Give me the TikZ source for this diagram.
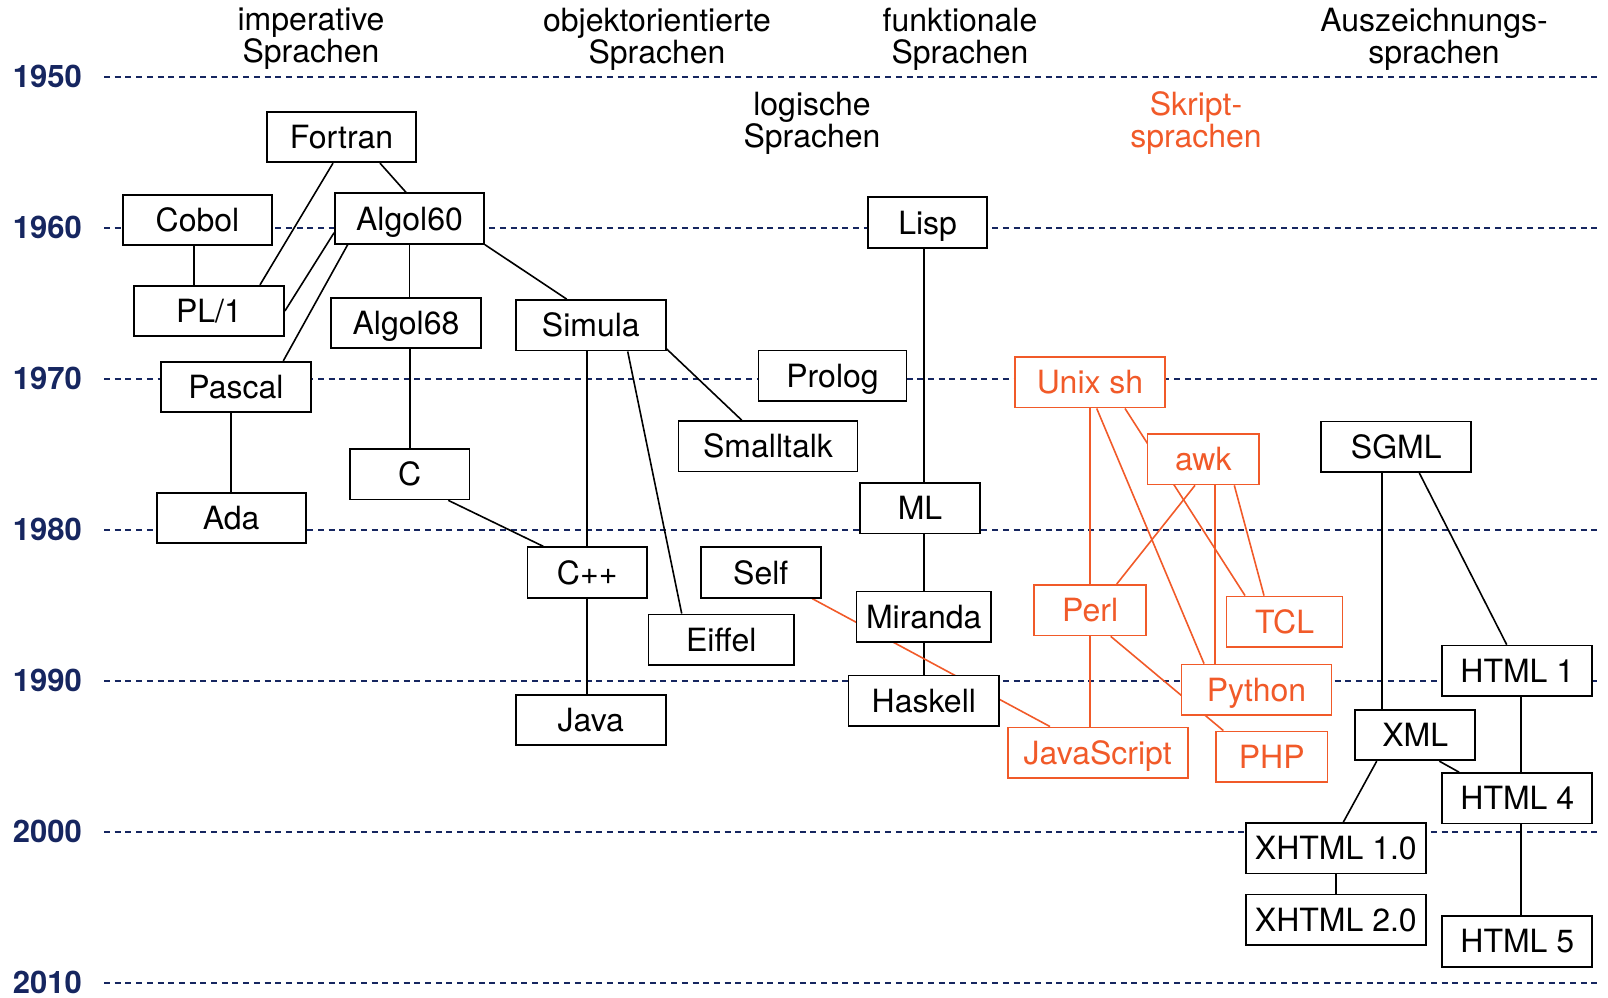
\documentclass[tikz,border=0pt]{standalone}
\usepackage{fontspec}
\setmainfont{TeX Gyre Heros}
\usetikzlibrary{calc}
\definecolor{navy}{RGB}{22,38,96}
\definecolor{scriptcol}{RGB}{241,90,41}
\newcommand{\langfont}{\fontsize{32}{32}\selectfont}
\newcommand{\yearfont}{\fontsize{31}{32}\selectfont\bfseries}
\pgfdeclarelayer{gridlayer}
\pgfdeclarelayer{linklayer}
\pgfsetlayers{gridlayer,linklayer,main}
\tikzset{
  lang/.style={draw=black, fill=white, line width=1.8pt, minimum height=50.5pt,
    inner sep=0pt, text height=23pt, text depth=0pt, font=\langfont},
  slang/.style={lang, draw=scriptcol, text=scriptcol},
  head/.style={align=center, inner sep=0pt, font=\langfont, anchor=north},
  year/.style={anchor=west, inner sep=0pt, text height=21.7pt, text depth=0pt,
    font=\yearfont, text=navy},
  grid/.style={navy, line width=2.2pt, dash pattern=on 6pt off 4.7pt},
  link/.style={black, line width=1.6pt},
  slink/.style={scriptcol, line width=1.6pt}
}
\begin{document}
\begin{tikzpicture}[x=1pt, y=-1pt]
\useasboundingbox (0,0) rectangle (1608,997);

% column headings
\node[head] (hImp) at (311,7.5) {imperative\\Sprachen};
\node[head] (hOO) at (657,7.5) {objektorientierte\\Sprachen};
\node[head] (hFun) at (960,7.5) {funktionale\\Sprachen};
\node[head] (hMark) at (1434,7.5) {Auszeichnungs-\\sprachen};
\node[head] (hLog) at (812,91.8) {logische\\Sprachen};
\node[head, text=scriptcol] (hScr) at (1196,91.8) {Skript-\\sprachen};

% time axis
\coordinate (gridend) at (1600,0);
\foreach \yr/\yy in {1950/76.7, 1960/227.75, 1970/378.8, 1980/529.85,
                     1990/680.9, 2000/831.95, 2010/982.6} {
  \node[year] (y\yr) at (12.7,\yy) {\yr};
  \begin{pgfonlayer}{gridlayer}
    \draw[grid] ($(y\yr.east)+(22,0)$) -- (y\yr.east -| gridend);
  \end{pgfonlayer}
}

% imperative languages
\node[lang, minimum width=149pt] (fortran) at (341.5,137) {Fortran};
\node[lang, minimum width=149pt] (cobol) at (197.5,220) {Cobol};
\node[lang, minimum width=149pt] (algol60) at (409.5,218.5) {Algol60};
\node[lang, minimum width=150pt] (pl1) at (209,311) {PL/1};
\node[lang, minimum width=150pt] (algol68) at (406,323) {Algol68};
\node[lang, minimum width=150pt] (pascal) at (236,387) {Pascal};
\node[lang, minimum width=119.5pt] (c) at (409.7,474.2) {C};
\node[lang, minimum width=149pt] (ada) at (231.2,517.9) {Ada};

% object-oriented languages
\node[lang, minimum width=150pt] (simula) at (590.8,325.3) {Simula};
\node[lang, minimum width=179pt] (smalltalk) at (768,446.3) {Smalltalk};
\node[lang, minimum width=119.5pt] (cpp) at (587.2,572.5) {C++};
\node[lang, minimum width=120pt] (self) at (760.8,572.5) {Self};
\node[lang, minimum width=145.5pt] (eiffel) at (721.3,639.7) {Eiffel};
\node[lang, minimum width=150pt] (java) at (590.8,720) {Java};

% logic and functional languages
\node[lang, minimum width=148pt] (prolog) at (832.5,375.8) {Prolog};
\node[lang, minimum width=118.5pt] (lisp) at (927.6,222.5) {Lisp};
\node[lang, minimum width=119.5pt] (ml) at (920,508.2) {ML};
\node[lang, minimum width=134.5pt] (miranda) at (923.7,616.8) {Miranda};
\node[lang, minimum width=150.5pt] (haskell) at (923.8,700.8) {Haskell};

% script languages
\node[slang, minimum width=150pt] (ush) at (1090,382.3) {Unix sh};
\node[slang, minimum width=111.5pt] (awk) at (1203.3,459.2) {awk};
\node[slang, minimum width=112pt] (perl) at (1090.2,610.2) {Perl};
\node[slang, minimum width=116pt] (tcl) at (1284.5,621.7) {TCL};
\node[slang, minimum width=150pt] (python) at (1256.5,689.7) {Python};
\node[slang, minimum width=180pt] (js) at (1097.7,752.7) {JavaScript};
\node[slang, minimum width=111.5pt] (php) at (1271.7,756.7) {PHP};

% markup languages
\node[lang, minimum width=150pt] (sgml) at (1396.3,446.8) {SGML};
\node[lang, minimum width=150pt] (html1) at (1517.3,670.8) {HTML 1};
\node[lang, minimum width=120pt] (xml) at (1415.2,735) {XML};
\node[lang, minimum width=150pt] (html4) at (1517.3,798.3) {HTML 4};
\node[lang, minimum width=180pt] (xhtml1) at (1335.8,848.3) {XHTML 1.0};
\node[lang, minimum width=180pt] (xhtml2) at (1335.8,919.8) {XHTML 2.0};
\node[lang, minimum width=150pt] (html5) at (1517.3,941.4) {HTML 5};

\begin{pgfonlayer}{linklayer}
  % imperative / object-oriented lineage
  \draw[link] ($(fortran.south)+(-8.5,0)$) -- ($(pl1.north)+(51,0)$);
  \draw[link] ($(fortran.south)+(38.5,0)$) -- ($(algol60.north)+(-3.5,0)$);
  \draw[link] ($(cobol.south)+(-3.5,0)$) coordinate (cb) -- (cb |- pl1.north);
  \draw[link] ($(algol60.west)+(0,14.2)$) -- (pl1.east);
  \draw[link] ($(algol60.south)+(-61.8,0)$) -- ($(pascal.north)+(47.3,0)$);
  \draw[link] (algol60.south) -- (algol60.south |- algol68.north);
  \draw[link] (algol60.south east) -- ($(simula.north)+(-24.1,0)$);
  \draw[link] (c.north |- algol68.south) -- (c.north);
  \draw[link] (ada.north |- pascal.south) -- (ada.north);
  \draw[link] (cpp.north |- simula.south) -- (cpp.north);
  \draw[link] ($(simula.south)+(36.9,0)$) -- ($(eiffel.north)+(-39.6,0)$);
  \draw[link] ($(simula.east)+(0,23.7)$) -- ($(smalltalk.north)+(-26.3,0)$);
  \draw[link] ($(c.south)+(38.6,0)$) -- ($(cpp.north)+(-43.9,0)$);
  \draw[link] (cpp.south) -- (cpp.south |- java.north);
  % functional lineage
  \draw[link] (miranda.north |- lisp.south) -- (miranda.north |- ml.north);
  \draw[link] (miranda.north |- ml.south) -- (miranda.north);
  \draw[link] (miranda.south) -- (miranda.south |- haskell.north);
  % script lineage
  \draw[slink] ($(self.south)+(51.5,0)$) -- ($(js.north)+(-47.7,0)$);
  \draw[slink] (ush.south) -- (ush.south |- perl.north);
  \draw[slink] (perl.south) -- (perl.south |- js.north);
  \draw[slink] ($(ush.south)+(6.7,0)$) -- ($(python.north)+(-52.5,0)$);
  \draw[slink] ($(ush.south)+(35,0)$) -- ($(tcl.north)+(-39.5,0)$);
  \draw[slink] ($(awk.south)+(-8.3,0)$) -- ($(perl.north)+(26.5,0)$);
  \draw[slink] ($(awk.south)+(11.7,0)$) coordinate (ap) -- (ap |- python.north);
  \draw[slink] ($(awk.south)+(31,0)$) -- ($(tcl.north)+(-20.5,0)$);
  \draw[slink] ($(perl.south)+(20.5,0)$) -- ($(php.north)+(-48.4,0)$);
  % markup lineage
  \draw[link] ($(sgml.south)+(-14.6,0)$) coordinate (sx) -- (sx |- xml.north);
  \draw[link] ($(sgml.south)+(23,0)$) -- ($(html1.north)+(-10.6,0)$);
  \draw[link] ($(html1.south)+(3.7,0)$) coordinate (h1) -- (h1 |- html4.north);
  \draw[link] ($(xml.south)+(24.1,0)$) -- ($(html4.north)+(-58.3,0)$);
  \draw[link] ($(xml.south)+(-38.5,0)$) -- ($(xhtml1.north)+(7.5,0)$);
  \draw[link] (xhtml1.south) -- (xhtml2.north);
  \draw[link] ($(html4.south)+(3.7,0)$) coordinate (h4) -- (h4 |- html5.north);
\end{pgfonlayer}
\end{tikzpicture}
\end{document}
